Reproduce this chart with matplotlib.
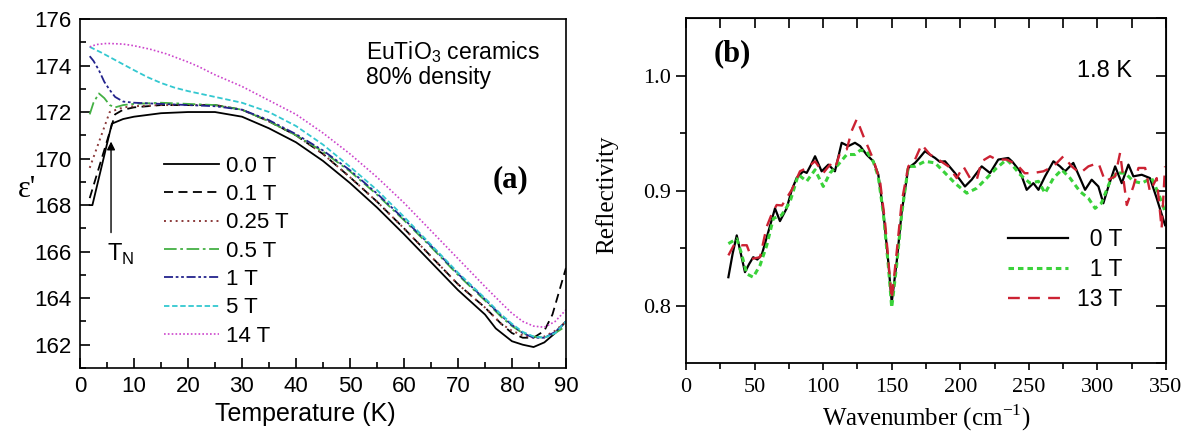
import matplotlib
matplotlib.use("Agg")
import matplotlib.pyplot as plt
from matplotlib.ticker import MultipleLocator, FixedLocator

SANS = "Liberation Sans"
SERIF = "Liberation Serif"

# (a) permittivity vs temperature for several magnetic fields
field_labels = ["0.0 T", "0.1 T", "0.25 T", "0.5 T", "1 T", "5 T", "14 T"]

t_00 = [1.8, 2.3, 5.9, 8, 10, 15, 20, 25, 30, 35, 40, 45, 50, 55, 60, 65,
        70, 75, 77, 80, 82, 84, 86, 88, 90]
eps_00 = [168.0, 168.0, 171.5, 171.7, 171.8, 171.95, 172.0, 172.0, 171.8,
          171.3, 170.7, 169.9, 168.95, 167.9, 166.75, 165.55, 164.35, 163.3,
          162.7, 162.15, 162.0, 161.9, 162.1, 162.5, 163.0]

t_01 = [1.8, 6.5, 8, 10, 15, 20, 25, 30, 35, 40, 45, 50, 55, 60, 65, 70, 75,
        78, 80, 82, 84, 86, 87.5, 89, 90]
eps_01 = [168.3, 171.9, 172.1, 172.2, 172.3, 172.3, 172.3, 172.1, 171.6,
          171.0, 170.2, 169.2, 168.15, 167.0, 165.8, 164.6, 163.6, 162.9,
          162.5, 162.3, 162.3, 162.6, 163.3, 164.5, 165.3]

t_025 = [1.8, 5.5, 8, 10, 15, 20, 25, 30, 35, 40, 45, 50, 55, 60, 65, 70, 75,
         78, 80, 82, 84, 86, 88, 90]
eps_025 = [169.6, 172.0, 172.2, 172.25, 172.3, 172.3, 172.3, 172.1, 171.6,
           171.0, 170.2, 169.2, 168.15, 167.0, 165.8, 164.6, 163.6, 162.9,
           162.6, 162.4, 162.3, 162.35, 162.6, 163.0]

t_05 = [1.8, 2.5, 3.5, 4.5, 5.5, 6.5, 8, 10, 15, 20, 25, 30, 35, 40, 45, 50,
        55, 60, 65, 70, 75, 78, 80, 82, 84, 86, 88, 90]
eps_05 = [171.9, 172.4, 172.8, 172.6, 172.3, 172.2, 172.3, 172.35, 172.4,
          172.35, 172.3, 172.1, 171.6, 171.0, 170.3, 169.45, 168.45, 167.35,
          166.2, 165.0, 163.9, 163.2, 162.8, 162.5, 162.35, 162.3, 162.5,
          162.8]

t_1 = [1.8, 2.5, 3.5, 4.5, 5.5, 6.5, 8, 10, 15, 20, 25, 30, 35, 40, 45, 50,
       55, 60, 65, 70, 75, 78, 80, 82, 84, 86, 88, 90]
eps_1 = [174.4, 174.2, 173.8, 173.3, 172.95, 172.65, 172.45, 172.4, 172.35,
         172.3, 172.25, 172.1, 171.65, 171.05, 170.35, 169.5, 168.5, 167.4,
         166.25, 165.05, 163.95, 163.25, 162.85, 162.5, 162.3, 162.3, 162.55,
         163.0]

t_5 = [1.8, 4, 6, 8, 10, 12.5, 15, 17.5, 20, 25, 30, 35, 40, 45, 50, 55, 60,
       65, 70, 75, 78, 80, 82, 84, 86, 88, 90]
eps_5 = [174.8, 174.55, 174.3, 174.05, 173.8, 173.5, 173.25, 173.05, 172.9,
         172.65, 172.4, 172.0, 171.4, 170.6, 169.65, 168.65, 167.5, 166.3,
         165.1, 164.0, 163.3, 162.9, 162.55, 162.35, 162.3, 162.5, 163.0]

t_14 = [1.8, 3, 5, 8, 10, 13, 16, 20, 22, 25, 30, 35, 40, 45, 50, 55, 60, 65,
        70, 75, 78, 80, 82, 84, 86, 88, 90]
eps_14 = [174.8, 174.9, 174.95, 174.92, 174.85, 174.7, 174.5, 174.15, 173.95,
          173.6, 173.1, 172.5, 171.9, 171.1, 170.2, 169.2, 168.1, 166.9,
          165.7, 164.5, 163.8, 163.35, 163.0, 162.8, 162.75, 163.0, 163.5]

# (b) far-infrared reflectivity at 1.8 K
wn_0T = [30.9, 34, 37, 40, 43, 46, 49, 52, 55.2, 60, 64.9, 68.5, 73.4, 77,
         80.7, 85.5, 88, 91, 94.1, 98.9, 103.8, 108.6, 113.5, 118.3, 123.2,
         127, 131.8, 136.6, 140.2, 143.9, 147.5, 150, 153.6, 157.3, 162.1, 167,
         170, 174.3, 178, 181.6, 185, 188.9, 192, 196.1, 203.4, 208.3, 215.6,
         221.7, 227.7, 235, 238, 243.5, 248.4, 253.3, 257, 261.8, 267.9, 272.7,
         276.4, 282.4, 287.3, 291, 295.8, 300.7, 304.3, 308, 312.9, 317.7,
         322.6, 326.2, 332.3, 338.3, 343.2, 349.3]
r_0T = [0.8246, 0.845, 0.861, 0.845, 0.829, 0.836, 0.842, 0.840, 0.844, 0.864,
        0.8845, 0.8734, 0.8845, 0.900, 0.911, 0.9167, 0.9153, 0.922, 0.9298,
        0.9167, 0.9225, 0.9167, 0.9415, 0.9386, 0.9415, 0.9386, 0.931, 0.9254,
        0.914, 0.8816, 0.8377, 0.8026, 0.8377, 0.8816, 0.9196, 0.924, 0.928,
        0.9342, 0.931, 0.9283, 0.925, 0.9254, 0.921, 0.9152, 0.9035, 0.9094,
        0.921, 0.9152, 0.9269, 0.9283, 0.925, 0.9167, 0.9006, 0.9064, 0.9006,
        0.9123, 0.9254, 0.921, 0.9167, 0.924, 0.9108, 0.9006, 0.9094, 0.9035,
        0.8889, 0.9035, 0.921, 0.9064, 0.9225, 0.9123, 0.9137, 0.9108, 0.8933,
        0.8699]

wn_1T = [30.9, 37, 40.5, 44.3, 49, 54, 58.8, 63.7, 69.7, 75.8, 81.9, 88, 94.1,
         100.1, 105, 111, 117.2, 123.2, 127, 131.8, 136.6, 140.2, 143.9, 147.5,
         150, 153.6, 157.3, 162.1, 167, 174.3, 181.6, 188.9, 196.1, 204.7, 212,
         219.3, 226.5, 233.8, 238, 243.5, 250.8, 257, 261.8, 267.9, 274, 280,
         287.3, 293.4, 298.3, 302.9, 309.2, 314.1, 320.2, 326.2, 332.3, 339.5,
         344.4, 349.3]
r_1T = [0.8538, 0.858, 0.845, 0.8275, 0.8246, 0.835, 0.852, 0.8757, 0.8786,
        0.890, 0.9138, 0.908, 0.918, 0.9035, 0.9152, 0.9225, 0.9313, 0.9313,
        0.935, 0.934, 0.925, 0.912, 0.880, 0.835, 0.7982, 0.835, 0.880, 0.921,
        0.921, 0.9254, 0.924, 0.9152, 0.9064, 0.8977, 0.902, 0.9108, 0.9196,
        0.9269, 0.922, 0.914, 0.9064, 0.908, 0.8977, 0.9108, 0.918, 0.9108,
        0.8991, 0.8933, 0.8845, 0.889, 0.908, 0.9152, 0.9152, 0.908, 0.9064,
        0.9108, 0.8977, 0.8816]

wn_13T = [30.9, 35.5, 40.6, 44.3, 48, 54, 58.8, 62, 66.1, 70, 77.1, 83.1, 88,
          94.1, 100.1, 105, 108.6, 112.3, 117.2, 120.8, 124.5, 129.3, 136.6,
          141.5, 145.1, 150, 153.5, 157.3, 162.1, 167, 171.8, 177.9, 184, 191.3,
          197.4, 202.2, 207.1, 212, 215.6, 221.7, 226.5, 233.8, 241.2, 247,
          253.3, 260.6, 267.9, 275.2, 281.2, 287.3, 293.4, 300.7, 305.6, 312.9,
          316.5, 321.4, 326.2, 329.9, 334.8, 338.3, 343.2, 346.8, 349.3]
r_13T = [0.8436, 0.8538, 0.8524, 0.8524, 0.8406, 0.842, 0.8684, 0.878, 0.8874,
         0.887, 0.9006, 0.9167, 0.9196, 0.9254, 0.9152, 0.9225, 0.919, 0.9327,
         0.9357, 0.9518, 0.962, 0.9474, 0.927, 0.908, 0.8728, 0.8055, 0.845,
         0.8904, 0.921, 0.9269, 0.94, 0.9313, 0.9269, 0.921, 0.9108, 0.921,
         0.9108, 0.9094, 0.9254, 0.9298, 0.9269, 0.9269, 0.9225, 0.915, 0.9152,
         0.9167, 0.921, 0.9298, 0.921, 0.915, 0.921, 0.924, 0.908, 0.9123,
         0.9327, 0.8874, 0.9035, 0.9196, 0.9196, 0.8991, 0.9108, 0.867, 0.921]

refl_labels = ["  0 T", "  1 T", "13 T"]


def plot_permittivity(ax):
    curves = [
        (t_00, eps_00, dict(color="black", ls="-", lw=1.3)),
        (t_01, eps_01, dict(color="black", ls=(0, (5, 3)), lw=1.3)),
        (t_025, eps_025, dict(color="#8b3a3a", ls=(0, (1, 2)), lw=1.4)),
        (t_05, eps_05, dict(color="#44b044", ls=(0, (7, 2, 1.5, 2)), lw=1.3)),
        (t_1, eps_1, dict(color="#23238c", ls=(0, (5, 1.5, 1.5, 1.5, 1.5, 1.5)), lw=1.3)),
        (t_5, eps_5, dict(color="#33c8d0", ls=(0, (3, 1.5)), lw=1.3)),
        (t_14, eps_14, dict(color="#cc44cc", ls=(0, (1, 1.3)), lw=1.2)),
    ]
    for (t, e, style), lab in zip(curves, field_labels):
        ax.plot(t, e, label=lab, **style)

    ax.set_xlim(0, 90)
    ax.set_ylim(161, 176)
    ax.xaxis.set_major_locator(MultipleLocator(10))
    ax.xaxis.set_minor_locator(MultipleLocator(5))
    ax.yaxis.set_major_locator(MultipleLocator(2))
    ax.yaxis.set_minor_locator(MultipleLocator(1))
    ax.tick_params(which="both", direction="in", top=False, right=False,
                   width=1.2, labelsize=16, pad=6)
    ax.tick_params(which="major", length=7)
    ax.tick_params(which="minor", length=4)
    for lab in ax.get_xticklabels() + ax.get_yticklabels():
        lab.set_family(SANS)
    for sp in ax.spines.values():
        sp.set_linewidth(1.2)

    ax.set_xlabel("Temperature (K)", family=SANS, fontsize=18)
    ax.xaxis.set_label_coords(0.463, -0.098)
    ax.set_ylabel("ε'", family=SERIF, fontsize=22, rotation=0,
                  ha="center", va="center")
    ax.yaxis.set_label_coords(-0.11, 0.51)

    ax.annotate("", xy=(5.75, 170.85), xytext=(5.75, 166.7),
                arrowprops=dict(arrowstyle="-|>", color="black", lw=1.0,
                                mutation_scale=12))
    ax.text(5.0, 165.9, r"T$_\mathregular{N}$", family=SANS, fontsize=17,
            va="center", ha="left")
    ax.text(53, 175.15, "EuTiO$_\\mathregular{3}$ ceramics\n80% density",
            family=SANS, fontsize=16.5, va="top", ha="left", linespacing=1.05)
    ax.text(76.5, 169.1, "(a)", family=SERIF, fontsize=22, fontweight="bold",
            va="center", ha="left")

    ax.legend(loc="upper left", bbox_to_anchor=(0.172, 0.608),
              frameon=False, borderpad=0, borderaxespad=0,
              handlelength=2.5, handletextpad=0.3, labelspacing=0.33,
              prop={"family": SANS, "size": 16})


def plot_reflectivity(ax):
    ax.plot(wn_0T, r_0T, color="black", lw=1.6, label=refl_labels[0])
    ax.plot(wn_1T, r_1T, color="#3ad23a", lw=2.2, ls=(0, (1.8, 1.3)),
            label=refl_labels[1])
    ax.plot(wn_13T, r_13T, color="#cc2233", lw=1.7, ls=(0, (5, 3.5)),
            label=refl_labels[2])

    ax.set_xlim(0, 350)
    ax.set_ylim(0.75, 1.05)
    ax.xaxis.set_major_locator(MultipleLocator(50))
    ax.xaxis.set_minor_locator(MultipleLocator(25))
    ax.yaxis.set_major_locator(FixedLocator([0.8, 0.9, 1.0]))
    ax.yaxis.set_minor_locator(FixedLocator([0.85, 0.95]))
    ax.tick_params(which="both", direction="out", width=1.2, labelsize=16)
    ax.tick_params(axis="x", which="major", length=5, pad=6)
    ax.tick_params(axis="x", which="minor", length=4)
    ax.tick_params(axis="y", which="major", length=7, pad=4)
    ax.tick_params(axis="y", which="minor", length=4)
    for lab in ax.get_xticklabels() + ax.get_yticklabels():
        lab.set_family(SERIF)
    for sp in ax.spines.values():
        sp.set_linewidth(1.3)

    # inward ticks on the top and right edges
    top = ax.secondary_xaxis("top")
    top.xaxis.set_major_locator(MultipleLocator(25))
    top.tick_params(direction="in", length=7, width=1.2, labeltop=False)
    right = ax.secondary_yaxis("right")
    right.yaxis.set_major_locator(MultipleLocator(0.05))
    right.tick_params(direction="in", length=7, width=1.2, labelright=False)

    ax.set_xlabel("Wavenumber (cm$^\\mathregular{-1}$)", family=SERIF,
                  fontsize=18)
    ax.xaxis.set_label_coords(0.5, -0.115)
    ax.set_ylabel("Reflectivity", family=SERIF, fontsize=18)
    ax.yaxis.set_label_coords(-0.142, 0.487)

    ax.text(20, 1.019, "(b)", family=SERIF, fontsize=22, fontweight="bold",
            va="center", ha="left")
    ax.text(285, 1.004, "1.8 K", family=SANS, fontsize=17, va="center",
            ha="left")

    ax.legend(loc="upper left", bbox_to_anchor=(0.671, 0.39), frameon=False,
              borderpad=0, borderaxespad=0, handlelength=2.6,
              handletextpad=0.4, labelspacing=0.3,
              prop={"family": SANS, "size": 16.5})


def main():
    fig = plt.figure(figsize=(11.92, 4.36), dpi=100)
    ax_a = fig.add_axes([0.0671, 0.156, 0.4077, 0.8005])
    ax_b = fig.add_axes([0.5755, 0.1674, 0.4027, 0.7913])
    plot_permittivity(ax_a)
    plot_reflectivity(ax_b)
    fig.savefig("out.png", dpi=100)


if __name__ == "__main__":
    main()
